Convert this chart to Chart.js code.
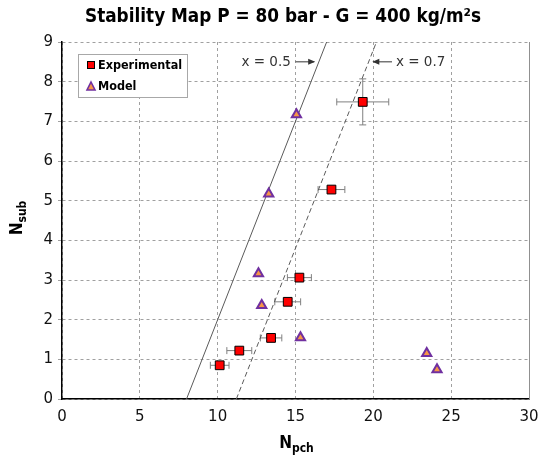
<!DOCTYPE html>
<html><head><meta charset="utf-8">
<script src="https://cdn.jsdelivr.net/npm/chart.js@4/dist/chart.umd.min.js"></script>
<style>html,body{margin:0;padding:0;background:#fff}#wrap{width:541px;height:457px}</style>
</head><body><div id="wrap"><canvas id="c" width="541" height="457"></canvas></div>
<script>
// ---- data ----
const expX    = [10.13, 11.39, 13.43, 14.50, 15.25, 17.31, 19.32];
const expY    = [0.85, 1.22, 1.54, 2.45, 3.06, 5.28, 7.49];
const expXErr = [0.60, 0.80, 0.69, 0.83, 0.77, 0.86, 1.67];
const expYErr = [0, 0, 0, 0, 0, 0, 0.58];
const modelX  = [15.06, 13.28, 12.62, 12.83, 15.32, 23.43, 24.09];
const modelY  = [7.17, 5.17, 3.16, 2.36, 1.55, 1.15, 0.74];
const line05X = [8.0, 17.0];
const line05Y = [0, 9];
const line07X = [11.2, 20.2];
const line07Y = [0, 9];
const xTicks  = [0, 5, 10, 15, 20, 25, 30];
const yTicks  = [0, 1, 2, 3, 4, 5, 6, 7, 8, 9];
const titleText = 'Stability Map P = 80 bar - G = 400 kg/m\u00B2s';
const seriesNames = ['Experimental', 'Model'];
const annot05 = {text: 'x = 0.5', textX: 14.7, arrowFrom: 15.0, arrowTo: 16.2, y: 8.5};
const annot07 = {text: 'x = 0.7', textX: 21.45, arrowFrom: 21.2, arrowTo: 20.0, y: 8.5};

const pts = (xs, ys) => xs.map((x, i) => ({x, y: ys[i]}));

const RED = '#FF0000', PURPLE = '#7030A0', ORANGE = '#F79646';
const COND = '"DejaVu Sans Condensed", "DejaVu Sans", sans-serif';

function drawArrow(ctx, x1, y, x2) {
  ctx.save();
  ctx.strokeStyle = '#333'; ctx.fillStyle = '#333'; ctx.lineWidth = 1;
  ctx.beginPath(); ctx.moveTo(x1, y); ctx.lineTo(x2, y); ctx.stroke();
  const d = x2 > x1 ? 1 : -1;
  ctx.beginPath();
  ctx.moveTo(x2 + d * 1, y);
  ctx.lineTo(x2 - d * 6, y - 3);
  ctx.lineTo(x2 - d * 6, y + 3);
  ctx.closePath(); ctx.fill();
  ctx.restore();
}

const errorBars = {
  id: 'errorBars',
  beforeDatasetsDraw(chart) {
    const {ctx, scales: {x, y}, chartArea: a} = chart;
    ctx.save();
    ctx.beginPath(); ctx.rect(a.left, a.top, a.right - a.left, a.bottom - a.top); ctx.clip();
    ctx.strokeStyle = '#808080'; ctx.lineWidth = 1;
    expX.forEach((vx, i) => {
      const px = x.getPixelForValue(vx), py = y.getPixelForValue(expY[i]);
      if (expXErr[i] > 0) {
        const l = x.getPixelForValue(vx - expXErr[i]), r = x.getPixelForValue(vx + expXErr[i]);
        ctx.beginPath();
        ctx.moveTo(l, py); ctx.lineTo(r, py);
        ctx.moveTo(l, py - 3.5); ctx.lineTo(l, py + 3.5);
        ctx.moveTo(r, py - 3.5); ctx.lineTo(r, py + 3.5);
        ctx.stroke();
      }
      if (expYErr[i] > 0) {
        const t = y.getPixelForValue(expY[i] + expYErr[i]), b = y.getPixelForValue(expY[i] - expYErr[i]);
        ctx.beginPath();
        ctx.moveTo(px, t); ctx.lineTo(px, b);
        ctx.moveTo(px - 3.5, t); ctx.lineTo(px + 3.5, t);
        ctx.moveTo(px - 3.5, b); ctx.lineTo(px + 3.5, b);
        ctx.stroke();
      }
    });
    ctx.restore();
  }
};

const decorations = {
  id: 'decorations',
  beforeDatasetsDraw(chart) {
    const {ctx, chartArea: a} = chart;
    ctx.save();
    ctx.strokeStyle = '#909090'; ctx.lineWidth = 1;
    ctx.beginPath(); ctx.moveTo(a.right + 0.5, a.top); ctx.lineTo(a.right + 0.5, a.bottom); ctx.stroke();
    ctx.restore();
  },
  afterDraw(chart) {
    const {ctx, scales: {x, y}, chartArea: a} = chart;
    ctx.save();
    // title
    ctx.fillStyle = '#000';
    ctx.font = 'bold 18.8px ' + COND;
    ctx.textAlign = 'center'; ctx.textBaseline = 'middle';
    ctx.fillText(titleText, 283, 17);
    // x axis title N_pch
    const cx = (a.left + a.right) / 2 + 1;
    ctx.font = 'bold 17px ' + COND;
    const wN = ctx.measureText('N').width;
    ctx.font = 'bold 12px ' + COND;
    const wS = ctx.measureText('pch').width;
    let sx = cx - (wN + wS) / 2;
    ctx.textAlign = 'left'; ctx.textBaseline = 'alphabetic';
    ctx.font = 'bold 17px ' + COND;
    ctx.fillText('N', sx, 448);
    ctx.font = 'bold 12px ' + COND;
    ctx.fillText('pch', sx + wN, 452);
    // y axis title N_sub
    ctx.save();
    ctx.translate(22, 218);
    ctx.rotate(-Math.PI / 2);
    ctx.font = 'bold 17px ' + COND;
    const wN2 = ctx.measureText('N').width;
    ctx.font = 'bold 12px ' + COND;
    const wS2 = ctx.measureText('sub').width;
    sx = -(wN2 + wS2) / 2;
    ctx.font = 'bold 17px ' + COND;
    ctx.fillText('N', sx, 0);
    ctx.font = 'bold 12px ' + COND;
    ctx.fillText('sub', sx + wN2, 4);
    ctx.restore();
    // annotations
    ctx.font = '13.5px "DejaVu Sans", sans-serif';
    ctx.fillStyle = '#333';
    ctx.textBaseline = 'middle';
    const ay = y.getPixelForValue(annot05.y);
    ctx.textAlign = 'right';
    ctx.fillText(annot05.text, x.getPixelForValue(annot05.textX), ay + 1);
    drawArrow(ctx, x.getPixelForValue(annot05.arrowFrom), ay, x.getPixelForValue(annot05.arrowTo));
    ctx.textAlign = 'left';
    ctx.fillText(annot07.text, x.getPixelForValue(annot07.textX), ay + 1);
    drawArrow(ctx, x.getPixelForValue(annot07.arrowFrom), ay, x.getPixelForValue(annot07.arrowTo));
    // legend
    ctx.fillStyle = '#fff';
    ctx.fillRect(78.5, 54.5, 109, 43);
    ctx.strokeStyle = '#a8a8a8'; ctx.lineWidth = 1;
    ctx.strokeRect(78.5, 54.5, 109, 43);
    ctx.fillStyle = RED; ctx.strokeStyle = '#000';
    ctx.fillRect(87, 61, 8, 8); ctx.strokeRect(87.5, 61.5, 7, 7);
    ctx.beginPath(); ctx.moveTo(91, 82); ctx.lineTo(95, 90); ctx.lineTo(87, 90); ctx.closePath();
    ctx.fillStyle = ORANGE; ctx.fill(); ctx.strokeStyle = PURPLE; ctx.lineWidth = 1.6; ctx.stroke();
    ctx.fillStyle = '#000';
    ctx.font = 'bold 12.5px ' + COND;
    ctx.textAlign = 'left'; ctx.textBaseline = 'middle';
    ctx.fillText(seriesNames[0], 98, 65.5);
    ctx.fillText(seriesNames[1], 98, 87);
    ctx.restore();
  }
};

Chart.defaults.font.family = '"DejaVu Sans", sans-serif';

new Chart(document.getElementById('c'), {
  type: 'scatter',
  data: {
    datasets: [
      {label: seriesNames[0], data: pts(expX, expY), pointStyle: 'rect', pointRadius: 6.2,
       backgroundColor: RED, borderColor: '#000', borderWidth: 1},
      {label: seriesNames[1], data: pts(modelX, modelY), pointStyle: 'triangle', pointRadius: 5.3,
       backgroundColor: ORANGE, borderColor: PURPLE, borderWidth: 2},
      {label: 'x = 0.5', data: pts(line05X, line05Y), showLine: true, pointRadius: 0,
       borderColor: '#5a5a5a', borderWidth: 1},
      {label: 'x = 0.7', data: pts(line07X, line07Y), showLine: true, pointRadius: 0,
       borderColor: '#5a5a5a', borderWidth: 1, borderDash: [5, 3]}
    ]
  },
  options: {
    responsive: false, animation: false, devicePixelRatio: 1,
    layout: {padding: {top: 42, right: 12, left: 0, bottom: 0}},
    plugins: {legend: {display: false}, title: {display: false}, tooltip: {enabled: false}},
    scales: {
      x: {
        type: 'linear', min: 0, max: 30,
        afterBuildTicks: s => { s.ticks = xTicks.map(v => ({value: v})); },
        afterFit: s => { s.height = 58; s.paddingLeft = 0; s.paddingRight = 0; },
        grid: {color: '#a0a0a0', lineWidth: 1, drawTicks: false},
        border: {display: true, color: '#000', width: 1.5, dash: [3, 3]},
        ticks: {color: '#111', font: {size: 15}, padding: 9, maxRotation: 0}
      },
      y: {
        type: 'linear', min: 0, max: 9,
        afterBuildTicks: s => { s.ticks = yTicks.map(v => ({value: v})); },
        afterFit: s => { s.width = 62; s.paddingTop = 0; s.paddingBottom = 0; },
        grid: {color: '#a0a0a0', lineWidth: 1, drawTicks: true, tickLength: 4},
        border: {display: true, color: '#000', width: 1.5, dash: [3, 3]},
        ticks: {color: '#111', font: {size: 15}, padding: 5}
      }
    }
  },
  plugins: [errorBars, decorations]
});
</script>
</body></html>
